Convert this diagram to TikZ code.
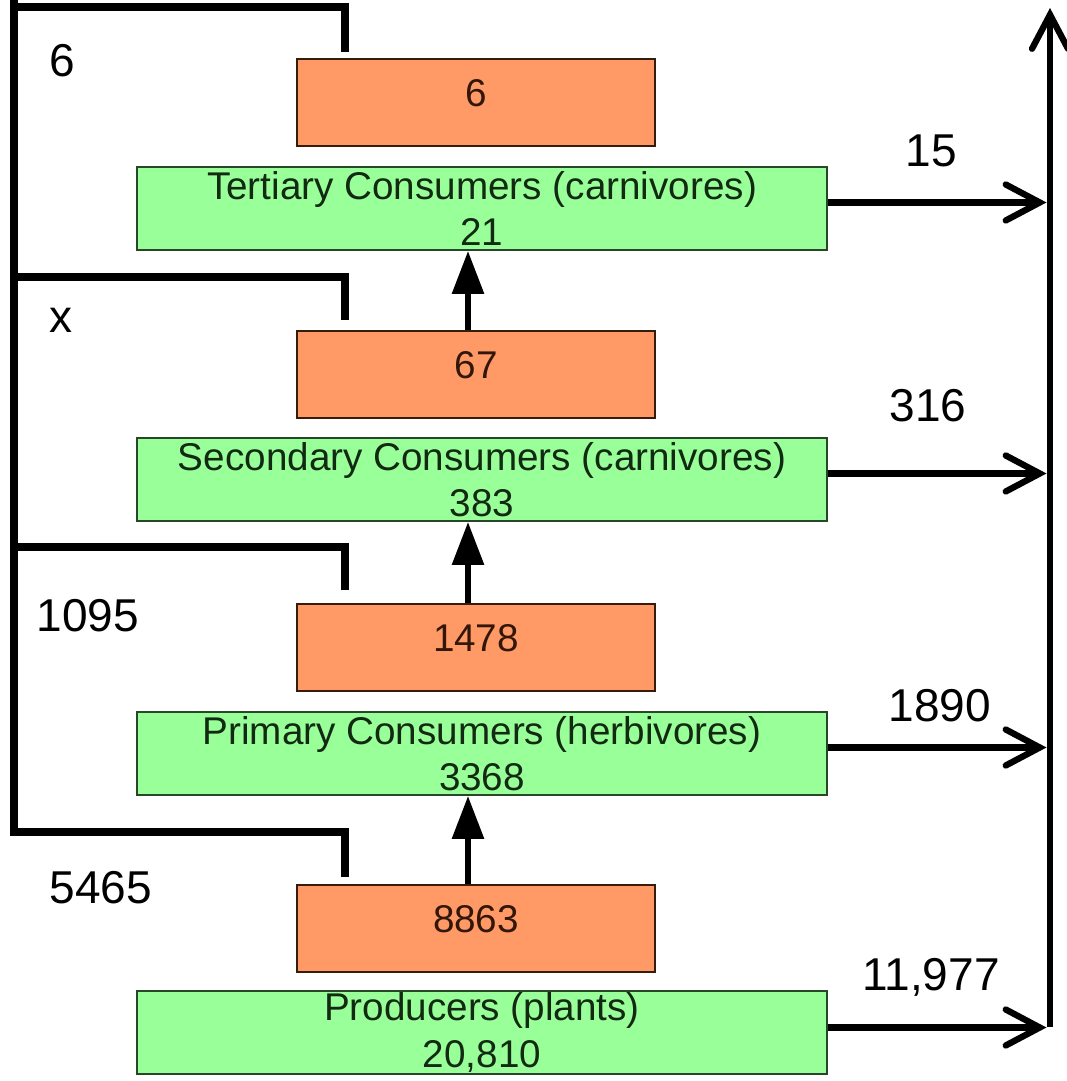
\documentclass[tikz,border=0pt]{standalone}
\usepackage{fontspec}
\setmainfont{Liberation Sans}
\usetikzlibrary{positioning,arrows.meta}

\definecolor{levelfill}{RGB}{153,255,153}
\definecolor{levelline}{RGB}{40,70,40}
\definecolor{leveltext}{RGB}{18,42,18}
\definecolor{netfill}{RGB}{255,153,102}
\definecolor{netline}{RGB}{55,28,12}
\definecolor{nettext}{RGB}{50,22,8}

\tikzset{
	level/.style={draw=levelline, line width=1.1pt, fill=levelfill, text=leveltext,
		minimum width=13.8cm, minimum height=1.66cm, inner sep=0pt, align=center,
		font=\fontsize{22}{26.5}\selectfont},
	net/.style={draw=netline, line width=1.1pt, fill=netfill, text=nettext,
		minimum width=7.16cm, minimum height=1.74cm, inner sep=0pt, text depth=0.4cm,
		font=\fontsize{22}{26}\selectfont},
	num/.style={inner sep=0pt, font=\fontsize{26.2}{30}\selectfont},
	bracket/.style={line width=4pt},
	flow/.style={line width=3.6pt, -{Straight Barb[length=0.68cm, width=0.72cm, line cap=round]}},
	upflow/.style={line width=3.4pt, -{Triangle[length=0.86cm, width=0.62cm]}}
}

\begin{document}
\begin{tikzpicture}
	\useasboundingbox (0,0) rectangle (21.32,21.62);

	%% TROPHIC LEVELS
	\node[level](tert) at (9.64,17.45){Tertiary Consumers (carnivores)\\21};
	\node[level](sec) at (9.64,12.03){Secondary Consumers (carnivores)\\383};
	\node[level](prim) at (9.64,6.55){Primary Consumers (herbivores)\\3368};
	\node[level](prod) at (9.64,0.97){Producers (plants)\\20,810};

	%% ENERGY PASSED ON
	\node[net, above=0.38cm of tert, xshift=-0.12cm](net_tert){6};
	\node[net, above=0.36cm of sec, xshift=-0.12cm](net_sec){67};
	\node[net, above=0.38cm of prim, xshift=-0.12cm](net_prim){1478};
	\node[net, above=0.34cm of prod, xshift=-0.12cm](net_prod){8863};

	\draw[upflow] ([xshift=-0.16cm]net_sec.north) -- ([xshift=-0.16cm]net_sec.north |- tert.south);
	\draw[upflow] ([xshift=-0.16cm]net_prim.north) -- ([xshift=-0.16cm]net_prim.north |- sec.south);
	\draw[upflow] ([xshift=-0.16cm]net_prod.north) -- ([xshift=-0.16cm]net_prod.north |- prim.south);

	%% LEFT SIDE
	\coordinate (feed_top) at (0.28,21.62);
	\coordinate (corner_tert) at (6.90,21.48);
	\coordinate (corner_sec) at (6.90,16.08);
	\coordinate (corner_prim) at (6.90,10.68);
	\coordinate (corner_prod) at (6.90,4.98);

	\draw[bracket] (feed_top) -- (feed_top |- corner_prod) -- (corner_prod) -- ++(0,-0.9);
	\draw[bracket] (feed_top |- corner_tert) -- (corner_tert) -- ++(0,-0.9);
	\draw[bracket] (feed_top |- corner_sec) -- (corner_sec) -- ++(0,-0.86);
	\draw[bracket] (feed_top |- corner_prim) -- (corner_prim) -- ++(0,-0.86);

	\node[num](in_tert) at (1.24,20.40){6};
	\node[num](in_sec) at (1.22,15.22){x};
	\node[num](in_prim) at (1.76,9.30){1095};
	\node[num](in_prod) at (2.02,3.86){5465};

	%% RIGHT SIDE
	\coordinate (out_bot) at (21.0,1.08);
	\coordinate (out_top) at (21.0,21.46);

	\draw[flow] (out_bot) -- (out_top);
	\draw[flow] ([yshift=0.12cm]tert.east) -- ([yshift=0.12cm, xshift=-0.07cm]tert.east -| out_top);
	\draw[flow] ([yshift=0.12cm]sec.east) -- ([yshift=0.12cm, xshift=-0.07cm]sec.east -| out_top);
	\draw[flow] ([yshift=0.12cm]prim.east) -- ([yshift=0.12cm, xshift=-0.07cm]prim.east -| out_top);
	\draw[flow] ([yshift=0.1cm]prod.east) -- ([yshift=0.1cm, xshift=-0.07cm]prod.east -| out_top);

	\node[num](lost_tert) at (18.62,18.60){15};
	\node[num](lost_sec) at (18.56,13.50){316};
	\node[num](lost_prim) at (18.80,7.50){1890};
	\node[num](lost_prod) at (18.62,2.08){11,977};

\end{tikzpicture}
\end{document}
